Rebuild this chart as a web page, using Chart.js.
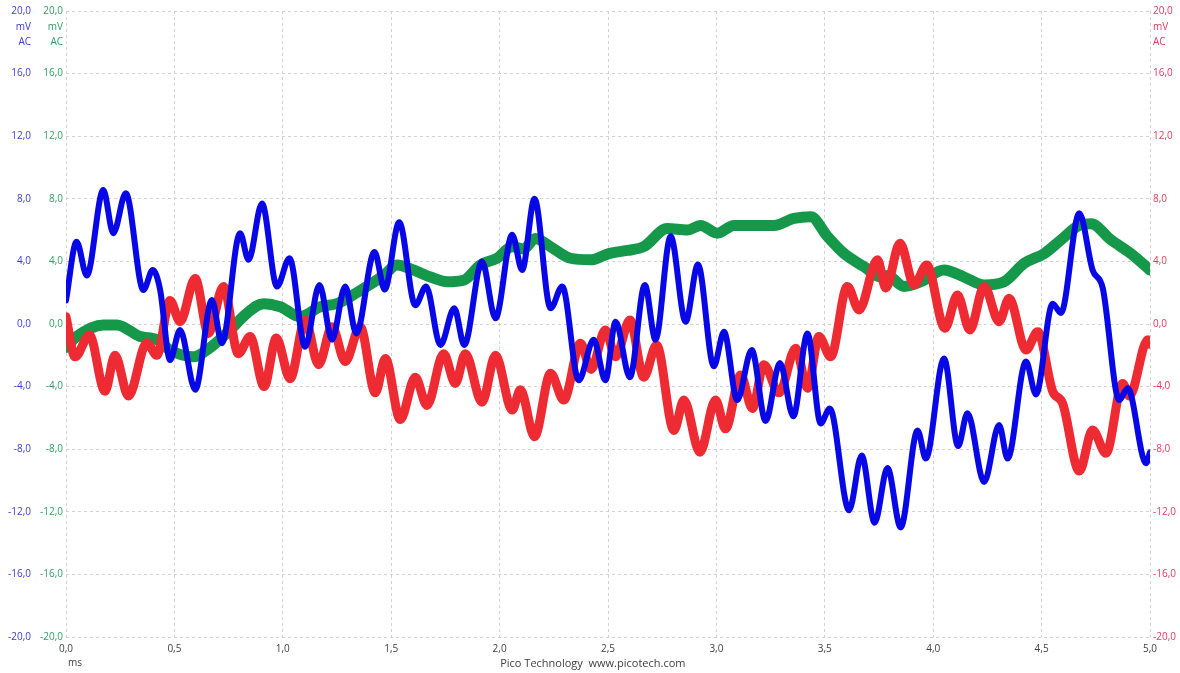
<!DOCTYPE html>
<html>
<head>
<meta charset="utf-8">
<script src="https://cdn.jsdelivr.net/npm/chart.js@4/dist/chart.umd.min.js"></script>
<style>
  html, body { margin: 0; padding: 0; background: #ffffff; }
  #wrap { width: 1180px; height: 673px; position: relative; }
</style>
</head>
<body>
<div id="wrap"><canvas id="c" width="1180" height="673"></canvas></div>
<script>
// ---- data (time in ms, voltage in mV) ----
const blueT = [0.000,0.049,0.096,0.172,0.218,0.276,0.357,0.400,0.434,0.480,0.526,0.596,0.673,0.719,0.803,0.842,0.904,0.973,1.031,1.103,1.169,1.227,1.288,1.339,1.423,1.470,1.537,1.611,1.661,1.727,1.791,1.837,1.919,1.981,2.058,2.104,2.161,2.235,2.289,2.365,2.434,2.488,2.535,2.601,2.670,2.719,2.789,2.858,2.915,2.988,3.035,3.096,3.163,3.227,3.293,3.355,3.420,3.481,3.523,3.612,3.670,3.730,3.789,3.850,3.928,3.966,4.050,4.115,4.158,4.235,4.304,4.343,4.428,4.474,4.551,4.589,4.674,4.735,4.782,4.858,4.897,4.982,5.000];
const blueV = [1.5,5.26,3.1,8.56,5.8,8.35,2.17,3.45,2.2,-2.3,-0.38,-4.2,1.53,-1.23,5.8,4.1,7.7,2.4,4.2,-1.45,2.5,-1.0,2.4,-0.6,4.6,2.2,6.5,1.2,2.4,-1.34,1.0,-1.34,4.0,0.36,5.7,3.45,8.0,1.0,2.4,-3.6,-1.0,-3.6,0.15,-3.4,2.5,-1.0,5.6,0.15,3.8,-2.7,-0.5,-4.86,-1.66,-6.2,-2.5,-5.9,-0.6,-6.35,-5.4,-11.9,-8.4,-12.7,-9.2,-13.0,-6.8,-8.6,-2.2,-7.8,-5.7,-10.1,-6.45,-8.6,-2.4,-4.5,1.3,0.7,7.07,3.45,2.3,-4.86,-4.1,-8.9,-8.2];

const redT = [0.000,0.042,0.108,0.180,0.226,0.288,0.373,0.419,0.480,0.526,0.596,0.657,0.726,0.795,0.849,0.914,0.970,1.034,1.103,1.165,1.227,1.288,1.357,1.427,1.473,1.542,1.611,1.665,1.742,1.796,1.842,1.919,1.981,2.058,2.096,2.161,2.235,2.296,2.373,2.422,2.488,2.535,2.601,2.665,2.724,2.804,2.850,2.924,2.996,3.042,3.112,3.166,3.219,3.289,3.366,3.420,3.473,3.527,3.604,3.658,3.743,3.781,3.847,3.912,3.970,4.054,4.112,4.169,4.235,4.304,4.350,4.428,4.482,4.551,4.597,4.674,4.735,4.797,4.874,4.905,4.990,5.000];
const redV = [0.47,-2.1,-0.7,-4.3,-2.0,-4.6,-1.2,-2.0,1.5,0.15,2.9,-0.6,2.4,-1.9,-0.8,-4.0,-0.9,-3.5,0.26,-2.6,-0.17,-2.4,-0.17,-4.4,-2.2,-6.1,-3.4,-5.2,-1.9,-3.8,-1.9,-5.0,-2.0,-5.5,-4.2,-7.2,-3.15,-4.86,-1.23,-2.9,-0.38,-2.1,0.26,-3.4,-1.34,-6.8,-4.86,-8.2,-4.86,-6.7,-3.26,-5.4,-2.6,-4.4,-1.55,-4.1,-0.8,-2.1,2.4,0.9,4.1,2.3,5.16,2.5,3.77,-0.27,1.85,-0.38,2.4,0.15,1.64,-1.66,-0.5,-4.3,-5.07,-9.4,-6.77,-8.26,-3.8,-4.6,-1.0,-1.3];

const greenT = [0.000,0.049,0.172,0.234,0.342,0.419,0.480,0.588,0.650,0.757,0.834,0.911,0.988,1.080,1.173,1.250,1.311,1.388,1.465,1.527,1.603,1.681,1.758,1.834,1.911,1.988,2.058,2.111,2.165,2.235,2.327,2.419,2.504,2.589,2.665,2.773,2.866,2.927,3.004,3.081,3.189,3.265,3.358,3.435,3.512,3.589,3.681,3.758,3.789,3.866,3.943,4.050,4.143,4.235,4.327,4.420,4.512,4.589,4.674,4.728,4.820,4.912,5.000];
const greenV = [-1.5,-0.8,-0.06,-0.06,-0.8,-1.0,-1.66,-2.1,-1.66,-0.38,0.68,1.3,1.1,0.47,1.1,1.3,1.75,2.4,3.1,3.77,3.45,3.0,2.7,2.8,3.77,4.2,4.94,4.8,5.47,4.94,4.2,4.1,4.5,4.7,4.94,6.1,6.0,6.3,5.8,6.3,6.3,6.3,6.75,6.86,5.6,4.5,3.66,3.0,3.1,2.4,2.7,3.45,3.0,2.5,2.7,3.88,4.5,5.37,6.3,6.4,5.37,4.5,3.45];

const unitLines = ['mV', 'AC'];
const xTitle = 'ms';
const footer = 'Pico Technology  www.picotech.com';

// ---- styles ----
const BLUE = 'rgb(8,8,230)', RED = 'rgb(238,42,50)', GREEN = 'rgb(22,152,74)';
const BLUE_TXT = '#3a3ad2', GREEN_TXT = '#2f9e62', RED_TXT = '#e6395c', GRAY_TXT = '#404040';
const FONT = '"Open Sans", "DejaVu Sans", sans-serif';
const fmt = v => Number(v).toFixed(1).replace('.', ',');
const pts = (T, V) => T.map((t, i) => ({ x: t, y: V[i] }));

const yBase = (color, pos, width, gridOn, weight) => ({
  type: 'linear', position: pos, min: -20, max: 20, weight: weight,
  ticks: { stepSize: 4, color: color, font: { family: FONT, size: 10 }, padding: 3, callback: fmt },
  grid: { display: gridOn, color: '#d2d2d2', lineWidth: 1, drawTicks: false },
  border: { display: false, dash: [3, 3] },
  afterFit: s => { s.width = width; }
});

const labelsPlugin = {
  id: 'extraText',
  afterDraw(chart) {
    const ctx = chart.ctx;
    const sB = chart.scales.yB, sG = chart.scales.yG, sR = chart.scales.yR, sx = chart.scales.x;
    const top = sB.getPixelForValue(20);
    ctx.save();
    ctx.font = '10px ' + FONT;
    ctx.textBaseline = 'middle';
    unitLines.forEach((t, i) => {
      const y = top + 16 + i * 15;
      ctx.fillStyle = BLUE_TXT; ctx.textAlign = 'right'; ctx.fillText(t, sB.right - 3, y);
      ctx.fillStyle = GREEN_TXT; ctx.textAlign = 'right'; ctx.fillText(t, sG.right - 3, y);
      ctx.fillStyle = RED_TXT; ctx.textAlign = 'left'; ctx.fillText(t, sR.left + 3, y);
    });
    ctx.fillStyle = GRAY_TXT;
    ctx.textAlign = 'left';
    ctx.fillText(xTitle, sx.left + 2, sx.bottom - 10);
    ctx.font = '11px ' + FONT;
    ctx.textAlign = 'center';
    ctx.fillText(footer, sx.getPixelForValue(2.43), sx.bottom - 9);
    ctx.restore();
  }
};

new Chart(document.getElementById('c'), {
  type: 'line',
  data: {
    datasets: [
      { label: 'A', data: pts(blueT, blueV), yAxisID: 'yB', borderColor: BLUE, borderWidth: 6, order: 1 },
      { label: 'B', data: pts(redT, redV), yAxisID: 'yR', borderColor: RED, borderWidth: 9, order: 2 },
      { label: 'C', data: pts(greenT, greenV), yAxisID: 'yG', borderColor: GREEN, borderWidth: 11, order: 3 }
    ]
  },
  options: {
    responsive: false,
    animation: false,
    devicePixelRatio: 1,
    layout: { padding: { top: 11, bottom: 0, left: 0, right: 0 } },
    elements: {
      point: { radius: 0 },
      line: { cubicInterpolationMode: 'monotone', borderJoinStyle: 'round', borderCapStyle: 'round', fill: false }
    },
    plugins: { legend: { display: false }, tooltip: { enabled: false } },
    scales: {
      x: {
        type: 'linear', min: 0, max: 5,
        ticks: { stepSize: 0.5, color: GRAY_TXT, font: { family: FONT, size: 10 }, padding: 6, callback: fmt, maxRotation: 0 },
        grid: { color: '#d2d2d2', lineWidth: 1, drawTicks: false },
        border: { display: false, dash: [3, 3] },
        afterFit: s => { s.height = 36; }
      },
      yB: yBase(BLUE_TXT, 'left', 34, false, 1),
      yG: yBase(GREEN_TXT, 'left', 32, true, 0),
      yR: yBase(RED_TXT, 'right', 30, false, 0)
    }
  },
  plugins: [labelsPlugin]
});
</script>
</body>
</html>
